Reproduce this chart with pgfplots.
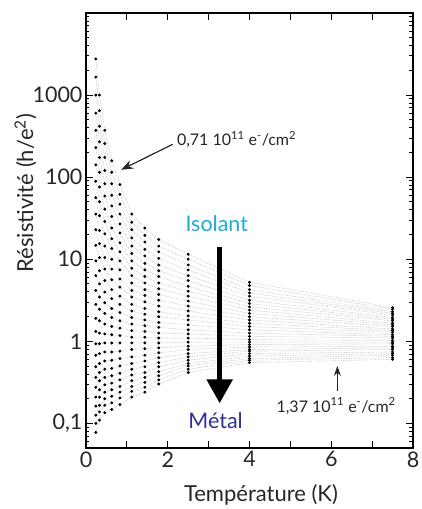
\documentclass[border=0pt]{standalone}
\usepackage{fontspec}
\setmainfont{Lato}
\usepackage{pgfplots}
\pgfplotsset{compat=1.18}
\usepackage{pgfplotstable}
\usetikzlibrary{arrows.meta}

\definecolor{isolant}{RGB}{27,170,226}
\definecolor{metal}{RGB}{46,49,146}

% log10 of the resistivity (h/e^2), one column per electron density
\pgfplotstableread{
T    c0   c1   c2   c3   c4   c5   c6   c7   c8   c9   c10  c11  c12  c13  c14  c15  c16  c17  c18   c19   c20   c21   c22   c23   c24   c25   c26   c27
0.24 3.44 3.22 3.00 2.78 2.57 2.36 2.15 1.95 1.75 1.55 1.36 1.17 0.98 0.80 0.62 0.45 0.28 0.12 -0.03 -0.17 -0.31 -0.44 -0.56 -0.68 -0.79 -0.90 -1.00 -1.11
0.33 3.00 2.81 2.62 2.43 2.24 2.06 1.88 1.70 1.53 1.35 1.19 1.02 0.86 0.70 0.54 0.39 0.25 0.10 -0.03 -0.15 -0.27 -0.38 -0.48 -0.59 -0.68 -0.78 -0.86 -0.96
0.46 2.57 2.41 2.24 2.08 1.92 1.77 1.61 1.46 1.31 1.16 1.02 0.88 0.74 0.60 0.47 0.34 0.21 0.09 -0.02 -0.13 -0.24 -0.34 -0.44 -0.53 -0.62 -0.70 -0.78 -0.87
0.63 2.20 2.06 1.92 1.78 1.65 1.52 1.38 1.25 1.13 1.00 0.88 0.75 0.63 0.52 0.40 0.29 0.18 0.08 -0.02 -0.13 -0.23 -0.33 -0.42 -0.51 -0.59 -0.67 -0.75 -0.83
0.83 1.91 1.79 1.67 1.55 1.43 1.32 1.20 1.09 0.98 0.87 0.76 0.66 0.55 0.45 0.35 0.25 0.16 0.07 -0.02 -0.12 -0.21 -0.30 -0.39 -0.47 -0.55 -0.62 -0.69 -0.77
1.12 1.55 1.45 1.36 1.26 1.16 1.07 0.98 0.89 0.80 0.71 0.62 0.54 0.45 0.37 0.29 0.21 0.13 0.05 -0.02 -0.10 -0.19 -0.27 -0.34 -0.41 -0.48 -0.55 -0.61 -0.68
1.44 1.38 1.29 1.21 1.12 1.04 0.95 0.87 0.79 0.71 0.63 0.56 0.48 0.40 0.33 0.26 0.19 0.12 0.05 -0.02 -0.09 -0.17 -0.24 -0.31 -0.38 -0.44 -0.50 -0.56 -0.62
1.78 1.24 1.16 1.09 1.01 0.93 0.86 0.79 0.71 0.64 0.57 0.50 0.43 0.36 0.30 0.23 0.17 0.10 0.04 -0.02 -0.08 -0.14 -0.20 -0.26 -0.31 -0.37 -0.42 -0.47 -0.52
2.50 1.06 1.00 0.93 0.87 0.80 0.74 0.67 0.61 0.55 0.49 0.43 0.37 0.31 0.26 0.20 0.14 0.09 0.04 -0.01 -0.06 -0.10 -0.15 -0.19 -0.23 -0.27 -0.30 -0.34 -0.38
4.00 0.72 0.68 0.63 0.59 0.55 0.50 0.46 0.42 0.38 0.34 0.30 0.26 0.22 0.18 0.14 0.10 0.06 0.02 -0.01 -0.04 -0.07 -0.10 -0.12 -0.15 -0.18 -0.21 -0.23 -0.26
7.50 0.41 0.39 0.36 0.34 0.32 0.29 0.27 0.25 0.22 0.20 0.18 0.15 0.13 0.11 0.08 0.06 0.04 0.01 -0.01 -0.03 -0.06 -0.08 -0.10 -0.13 -0.15 -0.17 -0.20 -0.22
}\restab

\begin{document}
\begin{tikzpicture}
\useasboundingbox (-86pt,-61pt) rectangle (336pt,448pt);
\begin{axis}[
    scale only axis,
    width=327pt, height=435pt,
    xmin=0, xmax=8,
    ymin=-1.30, ymax=4,
    xtick={0,...,8},
    xticklabels={0,,2,,4,,6,,8},
    ytick={-1,0,1,2,3},
    yticklabels={{0,1},1,10,100,1000},
    minor ytick={-1.222,-1.155,-1.097,-1.046,
        -0.699,-0.523,-0.398,-0.301,-0.222,-0.155,-0.097,-0.046,
        0.301,0.477,0.602,0.699,0.778,0.845,0.903,0.954,
        1.301,1.477,1.602,1.699,1.778,1.845,1.903,1.954,
        2.301,2.477,2.602,2.699,2.778,2.845,2.903,2.954,
        3.301,3.477,3.602,3.699,3.778,3.845,3.903,3.954},
    tick align=inside,
    major tick length=7pt,
    minor tick length=3.5pt,
    every tick/.style={black, line width=0.9pt},
    axis line style={line width=1.5pt},
    ticklabel style={font=\fontsize{21.5}{24}\selectfont, text=black!85},
    label style={font=\fontsize{22}{25}\selectfont, text=black!85},
    xlabel={Température (K)},
    ylabel={Résistivité (h/e\textsuperscript{2})},
    xlabel style={at={(axis description cs:0.535,-0.108)}, anchor=center},
    ylabel style={at={(axis description cs:-0.185,0.586)}, anchor=center},
    clip=false,
]
\pgfplotsinvokeforeach{0,...,27}{
  \addplot[gray!55, densely dotted, line width=0.6pt,
      mark=*, mark size=1.15pt, mark options={solid, fill=black, draw=black}]
      table[x=T, y=c#1] {\restab};
}
% annotations
\draw[-{Stealth[length=12pt,width=9pt]}, line width=1.2pt, black!85]
    (axis cs:2.12,2.40) -- (axis cs:0.86,2.09);
\node[anchor=west, font=\fontsize{16}{18}\selectfont, text=black!85]
    at (axis cs:2.14,2.46) {0,71 10\textsuperscript{11} e\textsuperscript{-}/cm\textsuperscript{2}};
\node[font=\fontsize{21.5}{24}\selectfont, text=isolant]
    at (axis cs:3.20,1.43) {Isolant};
\draw[-{Triangle[length=24pt,width=25pt]}, line width=5.5pt, black]
    (axis cs:3.27,1.15) -- (axis cs:3.27,-0.756);
\node[font=\fontsize{21.5}{24}\selectfont, text=metal]
    at (axis cs:3.17,-0.963) {Métal};
\draw[-{Stealth[length=10pt,width=7pt]}, line width=1.2pt, black!85]
    (axis cs:6.15,-0.61) -- (axis cs:6.15,-0.30);
\node[font=\fontsize{16}{18}\selectfont, text=black!85]
    at (axis cs:6.12,-0.79) {1,37 10\textsuperscript{11} e\textsuperscript{-}/cm\textsuperscript{2}};
\end{axis}
\end{tikzpicture}
\end{document}
